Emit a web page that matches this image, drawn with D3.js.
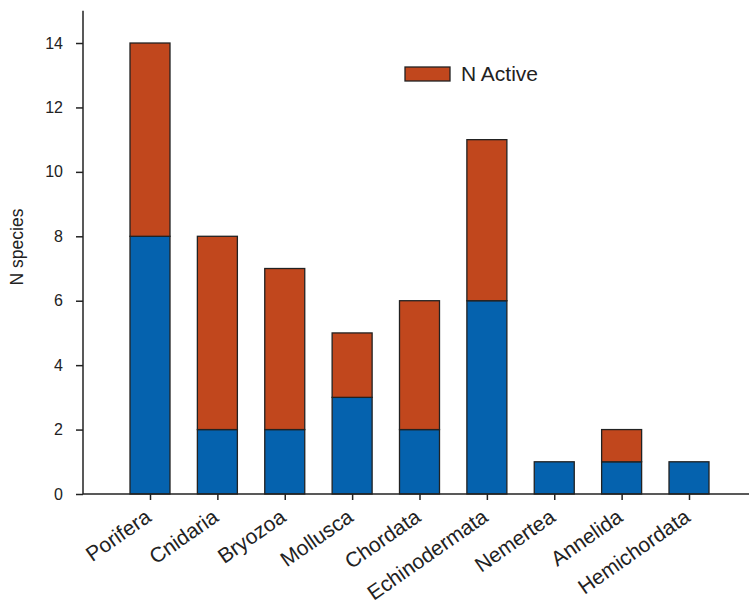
<!DOCTYPE html>
<html><head><meta charset="utf-8">
<script src="https://cdn.jsdelivr.net/npm/d3@7"></script>
<style>body{margin:0;background:#fff}svg{display:block}text{font-family:"Liberation Sans",Arial,sans-serif;fill:#222}</style>
</head><body><svg id="c" width="749" height="610"></svg>
<script>
const categories=["Porifera","Cnidaria","Bryozoa","Mollusca","Chordata","Echinodermata","Nemertea","Annelida","Hemichordata"];
const nInactive=[8,2,2,3,2,6,1,1,1];
const nActive=[6,6,5,2,4,5,0,1,0];
const yTicks=[0,2,4,6,8,10,12,14];
const seriesNames=["N Inactive","N Active"];
const colors=["#0562ae","#c1471d"];

const svg=d3.select("#c");
const x0=83,yBase=494,xEnd=749;
const y=d3.scaleLinear().domain([0,15]).range([yBase,10.8]);
const x=d3.scalePoint().domain(categories).range([150,689]);
const bw=40;

const rows=categories.map((c,i)=>({cat:c,"N Inactive":nInactive[i],"N Active":nActive[i]}));
const stack=d3.stack().keys(seriesNames)(rows);

svg.append("g").selectAll("g").data(stack).join("g")
 .attr("fill",(d,i)=>colors[i])
 .selectAll("rect").data(d=>d.filter(p=>p[1]-p[0]>0)).join("rect")
 .attr("x",d=>x(d.data.cat)-bw/2).attr("width",bw)
 .attr("y",d=>y(d[1])).attr("height",d=>y(d[0])-y(d[1]))
 .attr("stroke","#222").attr("stroke-width",1.3);

// y axis
const ya=svg.append("g").attr("transform",`translate(${x0},0)`)
 .call(d3.axisLeft(y).tickValues(yTicks).tickSize(7).tickPadding(13).tickSizeOuter(0));
ya.select(".domain").attr("stroke","#222").attr("stroke-width",1.5).attr("d",`M0,${yBase}V${y(15)}`);
ya.selectAll(".tick line").attr("stroke","#222").attr("stroke-width",1.5);
ya.selectAll(".tick text").attr("font-size",16).attr("fill","#222");

// x axis
const xa=svg.append("g").attr("transform",`translate(0,${yBase})`)
 .call(d3.axisBottom(x).tickSize(6).tickSizeOuter(0));
xa.select(".domain").attr("stroke","#222").attr("stroke-width",1.5).attr("d",`M${x0},0H${xEnd}`);
xa.selectAll(".tick line").attr("stroke","#222").attr("stroke-width",1.5);
xa.selectAll(".tick text").attr("font-size",21).attr("fill","#222")
 .attr("text-anchor","end").attr("dy",0).attr("y",0)
 .attr("transform","translate(2,26) rotate(-35)");

// y label
svg.append("text").attr("transform","translate(23,247) rotate(-90)")
 .attr("text-anchor","middle").attr("font-size",17.5).text("N species");

// legend
svg.append("rect").attr("x",405).attr("y",67).attr("width",45).attr("height",14)
 .attr("fill",colors[1]).attr("stroke","#222").attr("stroke-width",1.3);
svg.append("text").attr("x",461).attr("y",80.5).attr("font-size",21).text(seriesNames[1]);
</script></body></html>
